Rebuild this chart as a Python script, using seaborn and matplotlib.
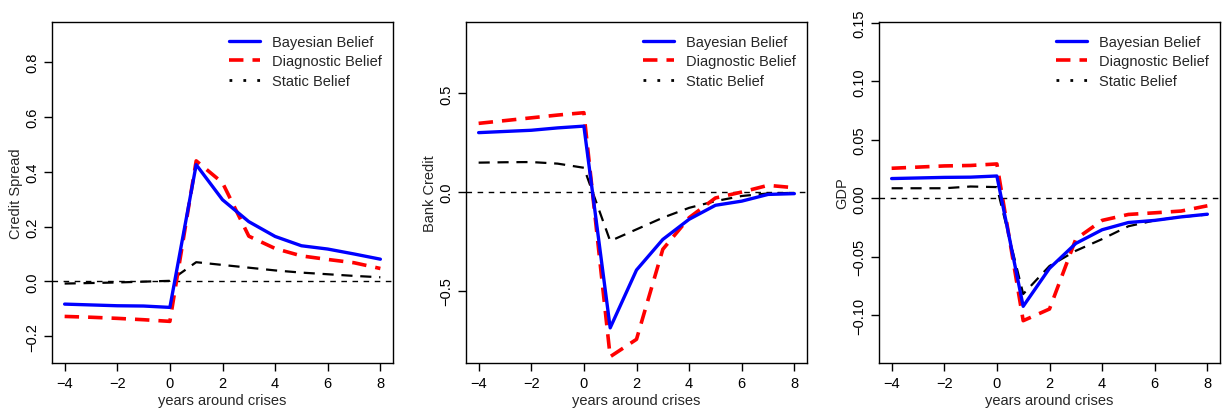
import numpy as np
import pandas as pd
import seaborn as sns
import matplotlib.pyplot as plt
from matplotlib.lines import Line2D
from matplotlib.ticker import FuncFormatter

# event time around crises
years = [-4, -3, -2, -1, 0, 1, 2, 3, 4, 5, 6, 7, 8]

# credit spread responses
spreadBayes = [-0.083, -0.086, -0.089, -0.090, -0.095, 0.426, 0.298, 0.218, 0.164, 0.130, 0.118, 0.100, 0.081]
spreadDiag = [-0.128, -0.131, -0.135, -0.140, -0.146, 0.440, 0.360, 0.165, 0.120, 0.093, 0.080, 0.068, 0.047]
spreadStatic = [-0.008, -0.006, -0.004, -0.001, 0.002, 0.070, 0.060, 0.050, 0.040, 0.032, 0.026, 0.020, 0.015]

# bank credit responses
creditBayes = [0.301, 0.307, 0.313, 0.325, 0.334, -0.688, -0.395, -0.240, -0.138, -0.067, -0.046, -0.012, -0.008]
creditDiag = [0.348, 0.362, 0.376, 0.390, 0.402, -0.834, -0.746, -0.290, -0.130, -0.030, 0.000, 0.034, 0.022]
creditStatic = [0.149, 0.151, 0.152, 0.144, 0.123, -0.248, -0.189, -0.130, -0.080, -0.046, -0.020, -0.007, -0.004]

# gdp responses
gdpBayes = [0.0168, 0.0173, 0.0178, 0.0180, 0.0190, -0.0925, -0.0600, -0.0387, -0.0270, -0.0208, -0.0190, -0.0160, -0.0137]
gdpDiag = [0.0256, 0.0266, 0.0276, 0.0280, 0.0293, -0.1048, -0.0948, -0.0350, -0.0190, -0.0139, -0.0125, -0.0110, -0.0065]
gdpStatic = [0.0085, 0.0085, 0.0085, 0.0100, 0.0095, -0.0820, -0.0580, -0.0450, -0.0350, -0.0240, -0.0190, -0.0160, -0.0140]

panels = [
    ('Credit Spread', spreadBayes, spreadDiag, spreadStatic, (-0.298, 0.948), [-0.2, 0.0, 0.2, 0.4, 0.6, 0.8], 1),
    ('Bank Credit', creditBayes, creditDiag, creditStatic, (-0.866, 0.863), [-0.5, 0.0, 0.5], 1),
    ('GDP', gdpBayes, gdpDiag, gdpStatic, (-0.141, 0.151), [-0.10, -0.05, 0.00, 0.05, 0.10, 0.15], 2),
]
lefts = [52 / 1226, 466 / 1226, 879 / 1226]

sns.set_style('ticks')
plt.rcParams['font.family'] = ['Liberation Sans', 'DejaVu Sans']
plt.rcParams['axes.linewidth'] = 1.0

fig = plt.figure(figsize=(12.26, 4.14), dpi=100)

for i, (label, bayes, diag, static, ylim, yticks, dec) in enumerate(panels):
    ax = fig.add_axes([lefts[i], 1 - 364 / 414, 341 / 1226, 341.3 / 414])
    df = pd.DataFrame({'year': years, 'bayes': bayes, 'diag': diag, 'static': static})
    ax.axhline(0, color='black', lw=1, ls=(0, (4, 4)), zorder=1)
    sns.lineplot(data=df, x='year', y='static', ax=ax, color='black', lw=1.6, ls=(0, (5, 3.5)))
    sns.lineplot(data=df, x='year', y='diag', ax=ax, color='red', lw=2.6, ls=(0, (4, 2.5)))
    sns.lineplot(data=df, x='year', y='bayes', ax=ax, color='blue', lw=2.4)
    ax.set_xlim(-4.48, 8.48)
    ax.set_ylim(*ylim)
    ax.set_xticks([-4, -2, 0, 2, 4, 6, 8])
    ax.set_yticks(yticks)
    ax.xaxis.set_major_formatter(FuncFormatter(lambda v, p: f'{v:.0f}'.replace('-', '\u2212')))
    ax.yaxis.set_major_formatter(FuncFormatter(lambda v, p, d=dec: f'{v:.{d}f}'.replace('-', '\u2212')))
    for t in ax.get_yticklabels():
        t.set_rotation(90)
        t.set_va('center')
    ax.tick_params(axis='both', direction='out', length=6, width=1, labelsize=10.5, colors='black')
    ax.tick_params(axis='y', pad=3)
    ax.set_xlabel('years around crises', fontsize=10.5, labelpad=2)
    ax.set_ylabel(label, fontsize=10.5, labelpad=2)
    for s in ax.spines.values():
        s.set_color('black')
    handles = [
        Line2D([], [], color='blue', lw=2.4),
        Line2D([], [], color='red', lw=2.6, ls=(0, (4, 2.5))),
        Line2D([], [], color='black', lw=2, ls=(0, (1, 4))),
    ]
    ax.legend(handles, ['Bayesian Belief', 'Diagnostic Belief', 'Static Belief'],
              loc='upper left', bbox_to_anchor=(0.52, 0.962), frameon=False,
              fontsize=10.5, handlelength=2.1, handletextpad=0.85, labelspacing=0.38,
              borderaxespad=0, borderpad=0)

fig.savefig('out.png', dpi=100)
